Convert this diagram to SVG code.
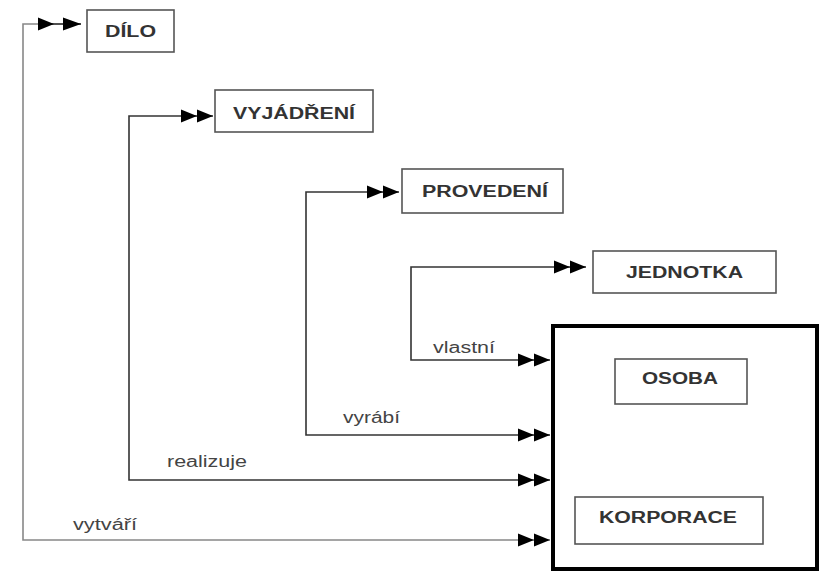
<svg xmlns="http://www.w3.org/2000/svg" width="820" height="572" viewBox="0 0 820 572">
<defs>
<style>
.box{fill:#fff;stroke:#555;stroke-width:1.6}
.big{fill:#fff;stroke:#000;stroke-width:4}
.nt{font-family:"Liberation Sans",Arial,sans-serif;font-size:16px;font-weight:bold;fill:#333}
.lb{font-family:"Liberation Sans",Arial,sans-serif;font-size:16px;fill:#444}
.con{fill:none;stroke:#333;stroke-width:1.6}
.con.light{stroke:#888}
</style>
<marker id="dbl" markerUnits="userSpaceOnUse" viewBox="0 0 32 14" refX="32" refY="7" markerWidth="32" markerHeight="14" orient="auto-start-reverse">
<path d="M0,0.5 L16,7 L0,13.5 Z M16,0.5 L32,7 L16,13.5 Z" fill="#000"/>
</marker>
<marker id="dblw" markerUnits="userSpaceOnUse" viewBox="0 0 43 14" refX="43" refY="7" markerWidth="43" markerHeight="14" orient="auto-start-reverse">
<path d="M0,7 H43" stroke="#333" stroke-width="1.6"/>
<path d="M0,0.5 L16,7 L0,13.5 Z M25,0.5 L43,7 L25,13.5 Z" fill="#000"/>
</marker>
</defs>
<rect width="820" height="572" fill="#fff"/>
<g id="connectors">
<path id="c-vytvari" class="con light" d="M550,540 H23 V24 H81" marker-start="url(#dbl)" marker-end="url(#dblw)"/>
<path id="c-realizuje" class="con" d="M550,480 H129 V116 H213" marker-start="url(#dbl)" marker-end="url(#dbl)"/>
<path id="c-vyrabi" class="con" d="M550,435 H306 V192 H399" marker-start="url(#dbl)" marker-end="url(#dbl)"/>
<path id="c-vlastni" class="con" d="M550,360 H411 V267 H586" marker-start="url(#dbl)" marker-end="url(#dbl)"/>
<text class="lb" x="73" y="530" textLength="64" lengthAdjust="spacingAndGlyphs">vytváří</text>
<text class="lb" x="167" y="467" textLength="80" lengthAdjust="spacingAndGlyphs">realizuje</text>
<text class="lb" x="343" y="423" textLength="57" lengthAdjust="spacingAndGlyphs">vyrábí</text>
<text class="lb" x="433" y="353" textLength="62" lengthAdjust="spacingAndGlyphs">vlastní</text>
</g>
<g id="dilo">
<rect class="box" x="87" y="10" width="87" height="42"/>
<text class="nt" x="105" y="37" textLength="51" lengthAdjust="spacingAndGlyphs">DÍLO</text>
</g>
<g id="vyjadreni">
<rect class="box" x="215" y="90" width="158" height="42"/>
<text class="nt" x="233" y="119" textLength="122" lengthAdjust="spacingAndGlyphs">VYJÁDŘENÍ</text>
</g>
<g id="provedeni">
<rect class="box" x="402" y="169" width="161" height="44"/>
<text class="nt" x="422" y="197" textLength="126" lengthAdjust="spacingAndGlyphs">PROVEDENÍ</text>
</g>
<g id="jednotka">
<rect class="box" x="593" y="251" width="183" height="42"/>
<text class="nt" x="626" y="278" textLength="117" lengthAdjust="spacingAndGlyphs">JEDNOTKA</text>
</g>
<g id="osoba-korporace">
<rect class="big" x="553" y="326" width="264" height="243"/>
<g id="osoba">
<rect class="box" x="615" y="359" width="132" height="45"/>
<text class="nt" x="642" y="384" textLength="76" lengthAdjust="spacingAndGlyphs">OSOBA</text>
</g>
<g id="korporace">
<rect class="box" x="575" y="497" width="188" height="47"/>
<text class="nt" x="599" y="523" textLength="138" lengthAdjust="spacingAndGlyphs">KORPORACE</text>
</g>
</g>
</svg>
